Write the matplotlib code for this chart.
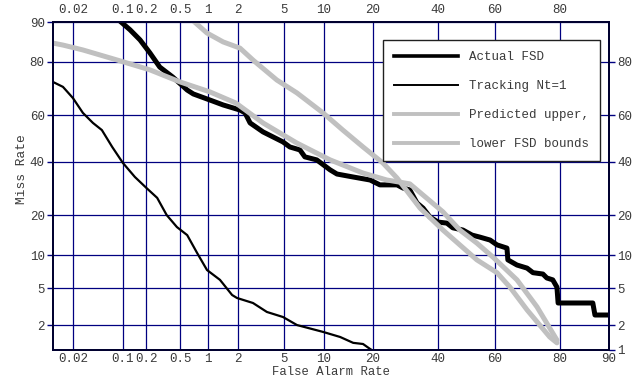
import numpy as np
import matplotlib
matplotlib.use('Agg')
from matplotlib import pyplot as plt
from matplotlib.lines import Line2D
from statistics import NormalDist

# DET curve data (percent)
fa_fsd = [0.078, 0.124, 0.166, 0.22, 0.29, 0.41, 0.52, 0.60, 0.70, 1.05, 1.43, 2.08, 2.32, 2.58, 3.36,
          4.94, 5.6, 6.7, 7.3, 8.9, 11.0, 12.2, 15.4, 19.3, 21.8, 26.6, 28.4, 30.5, 32.8, 34.8, 37.1,
          39.9, 43.0, 45.1, 48.7, 52.0, 54.8, 58.4, 60.8, 64.2, 64.5, 67.5, 70.7, 72.5, 75.4, 76.5,
          78.1, 79.2, 79.5, 87.2, 87.6, 90.0]
miss_fsd = [91.0, 88.4, 86.1, 82.7, 78.4, 75.1, 72.2, 70.3, 68.8, 66.4, 64.4, 62.3, 61.1, 56.8, 52.9,
            48.5, 46.3, 45.0, 42.0, 40.7, 36.5, 34.8, 33.6, 32.4, 30.5, 30.5, 29.3, 28.6, 23.9, 22.2, 19.4,
            17.9, 17.6, 16.3, 15.7, 14.4, 13.9, 13.2, 12.1, 11.4, 9.1, 8.2, 7.7, 7.0, 6.8, 6.25,
            6.0, 5.1, 3.52, 3.52, 2.61, 2.61]

fa_trk = [0.01, 0.0142, 0.020, 0.028, 0.039, 0.052, 0.072, 0.10, 0.143, 0.20, 0.27, 0.35, 0.46, 0.60,
          0.77, 0.98, 1.33, 1.75, 1.95, 2.74, 3.63, 4.94, 6.36, 9.84, 12.8, 15.4, 17.6, 19.3, 20.0]
miss_trk = [73.3, 71.5, 67.2, 61.1, 56.8, 53.7, 46.3, 39.4, 33.6, 29.3, 25.7, 20.0, 16.5, 14.4,
            10.4, 7.4, 6.0, 4.26, 3.97, 3.52, 2.82, 2.48, 2.01, 1.67, 1.45, 1.23, 1.19, 1.03, 0.98]

fa_up = [0.62, 0.98, 1.43, 2.08, 2.74, 4.4, 6.36, 9.84, 13.3, 17.6, 22.6, 26.6, 33.8, 41.6, 53.7,
         60.8, 65.2, 70.7, 77.3, 79.2]
miss_up = [91.0, 87.7, 85.6, 84.0, 80.6, 74.0, 69.2, 61.1, 53.7, 46.3, 39.4, 33.2, 22.2, 15.7, 9.1,
           7.0, 5.1, 2.97, 1.45, 1.23]

fa_lo = [0.01, 0.0142, 0.028, 0.084, 0.22, 0.50, 1.05, 1.9, 3.36, 6.36, 11.0, 17.6, 23.7, 30.5,
         41.6, 47.6, 53.7, 59.4, 67.5, 73.7, 79.2]
miss_lo = [85.3, 84.8, 83.5, 80.6, 77.5, 73.3, 69.6, 65.2, 56.8, 48.0, 40.7, 35.2, 32.4, 30.9,
           21.0, 15.7, 12.5, 9.6, 6.0, 3.2, 1.33]

x_ticks = [0.02, 0.1, 0.2, 0.5, 1, 2, 5, 10, 20, 40, 60, 80, 90]
x_labels = ['0.02', '0.1', '0.2', '0.5', '1', '2', '5', '10', '20', '40', '60', '80', '90']
y_ticks_left = [2, 5, 10, 20, 40, 60, 80, 90]
y_ticks_right = [1, 2, 5, 10, 20, 40, 60, 80]

labels = ['Actual FSD', 'Tracking Nt=1', 'Predicted upper,', 'lower FSD bounds']

#normal deviate scale
nd = NormalDist()
_ppf = np.vectorize(nd.inv_cdf, otypes=[float])
_cdf = np.vectorize(nd.cdf, otypes=[float])

def fwd(p):
    p = np.clip(np.asarray(p, dtype=float) / 100.0, 1e-9, 1 - 1e-9)
    return _ppf(p)

def inv(z):
    return _cdf(np.asarray(z, dtype=float)) * 100.0

font = 'Liberation Mono'
tcol = '#3a3a3a'
grid_col = '#000080'
plt.rcParams['font.family'] = font

fig = plt.figure(figsize=(6.38, 3.79), dpi=100)
ax = fig.add_axes([53/638, 29/379, 556/638, 328/379])
ax.set_xscale('function', functions=(fwd, inv))
ax.set_yscale('function', functions=(fwd, inv))
ax.set_xlim(0.01, 90)
ax.set_ylim(1, 90)

ax.plot(fa_fsd, miss_fsd, color='black', lw=3.6, solid_joinstyle='round', label=labels[0], zorder=3)
ax.plot(fa_trk, miss_trk, color='black', lw=1.6, solid_joinstyle='round', label=labels[1], zorder=3)
ax.plot(fa_up, miss_up, color='#c0c0c0', lw=3.6, solid_joinstyle='round', solid_capstyle='round', label=labels[2], zorder=4)
ax.plot(fa_lo, miss_lo, color='#c0c0c0', lw=3.6, solid_joinstyle='round', solid_capstyle='round', label=labels[3], zorder=4)

ax.set_xticks(x_ticks, x_labels)
ax.set_yticks(y_ticks_left, [str(v) for v in y_ticks_left])
ax.grid(True, color=grid_col, lw=0.9)
ax.set_axisbelow(True)
ax.tick_params(axis='x', length=0, pad=2, labelsize=9, labelcolor=tcol)
ax.tick_params(axis='y', length=4, width=1, color=grid_col, pad=2, labelsize=9, labelcolor=tcol)
for s in ax.spines.values():
    s.set_color('#000030')
    s.set_linewidth(1.2)

# top axis labels
axt = ax.twiny()
axt.set_xscale('function', functions=(fwd, inv))
axt.set_xlim(0.01, 90)
axt.set_xticks(x_ticks[:-1], x_labels[:-1])
axt.tick_params(axis='x', length=0, pad=4, labelsize=9, labelcolor=tcol)

# right axis labels
axr = ax.twinx()
axr.set_yscale('function', functions=(fwd, inv))
axr.set_ylim(1, 90)
axr.set_yticks(y_ticks_right, [str(v) for v in y_ticks_right])
axr.tick_params(axis='y', length=4, width=1, color=grid_col, pad=2, labelsize=9, labelcolor=tcol)
for a in (axt, axr):
    for s in a.spines.values():
        s.set_color('#000030')
        s.set_linewidth(1.2)

ax.set_xlabel('False Alarm Rate', fontsize=8.8, color=tcol, va='top')
ax.xaxis.set_label_coords(0.5, -0.05)
ax.set_ylabel('Miss Rate', fontsize=9.3, color=tcol)
ax.yaxis.set_label_coords(-0.045, 0.55)

handles = [Line2D([], [], color='black', lw=2.6),
           Line2D([], [], color='black', lw=1.4),
           Line2D([], [], color='#c0c0c0', lw=2.8),
           Line2D([], [], color='#c0c0c0', lw=2.8)]
leg = axr.legend(handles, labels, loc='upper right', bbox_to_anchor=(0.984, 0.945), borderaxespad=0,
                 fancybox=False, framealpha=1, edgecolor='#202020', handlelength=5.1, handletextpad=0.9,
                 labelspacing=1.35, borderpad=0.9, prop={'family': font, 'size': 9})
leg.get_frame().set_linewidth(1.0)
for t in leg.get_texts():
    t.set_color(tcol)

plt.savefig('out.png', dpi=100)
